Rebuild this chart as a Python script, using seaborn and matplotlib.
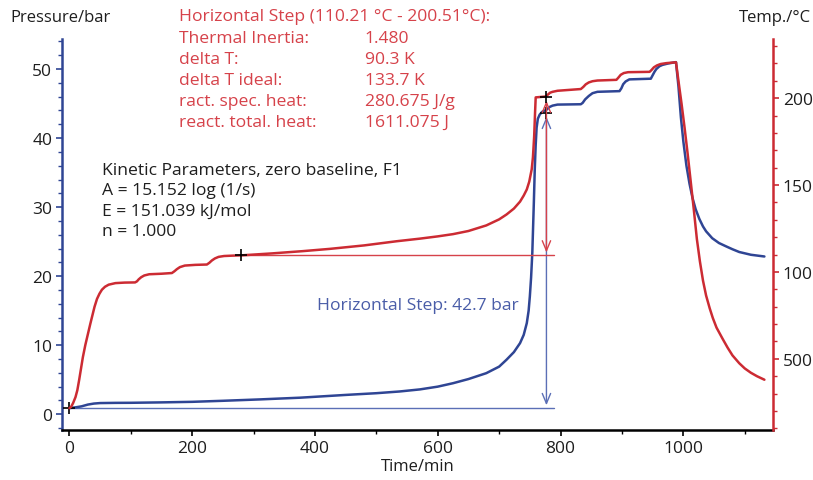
import matplotlib
matplotlib.use("Agg")
import matplotlib.pyplot as plt
import seaborn as sns
from matplotlib.ticker import FixedLocator, MultipleLocator, FixedFormatter

# ---------------- data ----------------
time_p = [0, 10, 20, 30, 40, 50, 75, 100, 150, 200, 250, 310, 376, 450, 500, 538, 571, 600,
          625, 650, 679, 700, 712, 724, 734, 740, 745, 748, 750, 752, 754, 756.5, 758, 759.5,
          761, 763, 766, 770, 777, 782, 787, 795, 833, 836, 840, 846, 852, 860, 896, 899, 902,
          906, 912, 947, 950, 953, 956, 961, 966, 975, 988, 992, 996, 1000, 1005, 1010, 1015,
          1020, 1026, 1032, 1037, 1047, 1058, 1070, 1080, 1091, 1110, 1132]
pressure = [0.9, 1.0, 1.15, 1.4, 1.55, 1.62, 1.65, 1.66, 1.72, 1.8, 1.95, 2.15, 2.4, 2.8, 3.05,
            3.3, 3.6, 4.0, 4.5, 5.1, 5.95, 6.9, 7.9, 9.0, 10.3, 11.5, 13.2, 15.0, 17.1, 19.8,
            23.4, 30.7, 35.5, 39.0, 41.5, 42.8, 43.4, 43.8, 44.1, 44.5, 44.7, 44.85, 44.9, 45.1,
            45.6, 46.1, 46.5, 46.7, 46.8, 47.2, 47.8, 48.2, 48.5, 48.6, 49.1, 49.6, 50.0, 50.4,
            50.6, 50.8, 51.0, 47.5, 43.0, 39.5, 36.0, 33.4, 31.3, 29.7, 28.3, 27.2, 26.5, 25.5,
            24.8, 24.3, 23.9, 23.5, 23.1, 22.85]

time_t = [0, 3, 6, 10, 13, 16, 19, 22, 26, 30, 34, 37, 41, 45, 49, 53, 58, 64, 75, 90, 107,
          110, 113, 117, 122, 130, 150, 167, 171, 175, 180, 188, 205, 224, 228, 232, 237, 243,
          252, 265, 281, 330, 380, 424, 480, 533, 571, 600, 625, 650, 679, 700, 712, 724, 734,
          740, 745, 749, 753, 755, 757, 758.5, 759.5, 776, 779, 783, 787, 795, 810, 833, 837,
          841, 846, 852, 860, 891, 894, 898, 903, 910, 945, 948, 952, 957, 963, 972, 988, 992,
          997, 1002, 1007, 1012, 1017, 1022, 1027, 1032, 1037, 1043, 1048, 1054, 1064, 1072,
          1080, 1091, 1100, 1110, 1120, 1132]
temperature = [21.6, 22.5, 24.5, 28.0, 32.0, 38.0, 44.5, 51.0, 58.0, 64.0, 70.0, 74.3, 80.0,
               84.5, 87.5, 89.8, 91.5, 92.7, 93.6, 93.9, 94.0, 94.6, 95.8, 97.0, 98.0, 98.7,
               99.0, 99.4, 100.4, 101.6, 102.8, 103.7, 104.1, 104.3, 105.3, 106.6, 107.8, 108.7,
               109.2, 109.4, 109.6, 110.7, 112.0, 113.3, 115.3, 117.7, 119.2, 120.5, 121.8, 123.6,
               126.8, 130.3, 133.1, 136.5, 140.5, 144.0, 147.5, 152.0, 159.1, 166.0, 178.0, 192.0,
               200.5, 201.0, 202.0, 203.2, 203.7, 204.3, 204.7, 205.3, 206.5, 208.0, 209.1, 209.8,
               210.2, 210.6, 211.8, 213.5, 214.5, 215.0, 215.2, 216.2, 217.8, 218.9, 219.7, 220.2,
               220.7, 210.0, 197.0, 183.0, 168.0, 152.0, 136.0, 119.0, 106.0, 95.0, 86.5, 79.0,
               73.5, 68.0, 61.5, 56.5, 52.0, 47.5, 44.5, 42.0, 40.0, 38.0]

baseline_p = 0.9
step_p_top = 43.7
step_t_low = 109.6
step_t_high = 201.0
step_time = 777
red_line_start = 280
lines_end = 790

x_ticks = [0, 200, 400, 600, 800, 1000]
left_ticks = [0, 10, 20, 30, 40, 50]
right_ticks = [50, 100, 150, 200]
right_tick_labels = ["500", "100", "150", "200"]

info_labels = ["Thermal Inertia:", "delta T:", "delta T ideal:", "ract. spec. heat:", "react. total. heat:"]
info_values = ["1.480", "90.3 K", "133.7 K", "280.675 J/g", "1611.075 J"]
kinetic_lines = ["Kinetic Parameters, zero baseline, F1", "A = 15.152 log (1/s)",
                 "E = 151.039 kJ/mol", "n = 1.000"]

# ---------------- style ----------------
sns.set_theme(style="white")
plt.rcParams["font.family"] = ["Open Sans", "DejaVu Sans"]

RED = "#cc2b33"
RED_TXT = "#d6424a"
BLUE = "#2f4594"
BLUE_TXT = "#4a5da8"
BLUE_LIGHT = "#5b6fb6"
TXT = "#1e1e1e"

W, H = 813, 481
fig = plt.figure(figsize=(W / 100, H / 100), dpi=100)
ax = fig.add_axes([62 / W, 1 - 431 / H, (773 - 62) / W, (431 - 40) / H])
ax2 = ax.twinx()

sns.lineplot(x=time_p, y=pressure, ax=ax, color=BLUE, lw=1.8, sort=False)
sns.lineplot(x=time_t, y=temperature, ax=ax2, color=RED, lw=1.8, sort=False)

# step construction lines
ax.plot([0, lines_end], [baseline_p, baseline_p], color=BLUE_LIGHT, lw=1.0, zorder=1)
ax2.plot([red_line_start, lines_end], [step_t_low, step_t_low], color=RED_TXT, lw=1.0, zorder=1)
ax.annotate("", xy=(step_time, baseline_p), xytext=(step_time, step_p_top),
            arrowprops=dict(arrowstyle="<->,head_length=0.6,head_width=0.25",
                            color=BLUE_LIGHT, lw=1.0, shrinkA=3, shrinkB=2))
ax2.annotate("", xy=(step_time, step_t_low), xytext=(step_time, step_t_high),
             arrowprops=dict(arrowstyle="<->,head_length=0.6,head_width=0.25",
                             color=RED_TXT, lw=1.0, shrinkA=3, shrinkB=2))
ax.plot([0, step_time], [baseline_p, step_p_top], ls="none", marker="+", ms=9, mew=1.2, color="black", zorder=5)
ax2.plot([red_line_start, step_time], [step_t_low, step_t_high], ls="none", marker="+", ms=9, mew=1.2,
         color="black", zorder=5)

# axes limits & ticks
ax.set_xlim(-12, 1146)
ax.set_ylim(-2.28, 54.35)
ax2.set_ylim(9.06, 234.1)
ax.xaxis.set_major_locator(FixedLocator(x_ticks))
ax.xaxis.set_minor_locator(MultipleLocator(100))
ax.yaxis.set_major_locator(FixedLocator(left_ticks))
ax.yaxis.set_minor_locator(MultipleLocator(2))
ax2.yaxis.set_major_locator(FixedLocator(right_ticks))
ax2.yaxis.set_major_formatter(FixedFormatter(right_tick_labels))
ax2.yaxis.set_minor_locator(MultipleLocator(10))

for a in (ax, ax2):
    for s in a.spines.values():
        s.set_visible(False)
ax.spines["left"].set_visible(True)
ax.spines["left"].set_color(BLUE)
ax.spines["left"].set_linewidth(1.8)
ax.spines["bottom"].set_visible(True)
ax.spines["bottom"].set_color("black")
ax.spines["bottom"].set_linewidth(1.8)
ax2.spines["right"].set_visible(True)
ax2.spines["right"].set_color(RED)
ax2.spines["right"].set_linewidth(1.8)

ax.tick_params(axis="x", which="major", direction="out", length=4, width=1.2, color="black",
               labelsize=12.5, labelcolor=TXT, pad=3, bottom=True)
ax.tick_params(axis="x", which="minor", direction="out", length=3, width=1.0, color="black", bottom=True)
ax.tick_params(axis="y", which="major", direction="out", length=4, width=1.2, color=BLUE,
               labelsize=12.5, labelcolor=TXT, pad=3, left=True)
ax.tick_params(axis="y", which="minor", direction="out", length=3, width=1.0, color=BLUE, left=True)
ax2.tick_params(axis="y", which="major", direction="out", length=4, width=1.2, color=RED,
                labelsize=12.5, labelcolor=TXT, pad=3, right=True)
ax2.tick_params(axis="y", which="minor", direction="out", length=3, width=1.0, color=RED, right=True)
ax.set_xlabel("")
ax.set_ylabel("")
ax2.set_ylabel("")
ax.grid(False)
ax2.grid(False)


def fx(x):
    return x / W


def fy(y):
    return 1 - y / H


fig.text(fx(10), fy(17.5), "Pressure/bar", fontsize=12, color=TXT, va="center", ha="left")
fig.text(fx(811), fy(17.5), "Temp./°C", fontsize=12, color=TXT, va="center", ha="right")
fig.text(fx(418), fy(467), "Time/min", fontsize=12, color=TXT, va="center", ha="center")

fig.text(fx(179), fy(17.3), "Horizontal Step (110.21 °C - 200.51°C):", fontsize=12.6, color=RED_TXT,
         va="center", ha="left")
for i, (lab, val) in enumerate(zip(info_labels, info_values)):
    yy = 39.3 + i * 20.85
    fig.text(fx(179), fy(yy), lab, fontsize=12.6, color=RED_TXT, va="center", ha="left")
    fig.text(fx(364.5), fy(yy), val, fontsize=12.6, color=RED_TXT, va="center", ha="left")

for i, line in enumerate(kinetic_lines):
    fig.text(fx(101.5), fy(170.7 + i * 20.6), line, fontsize=12.6, color=TXT, va="center", ha="left")

fig.text(fx(316.5), fy(306), "Horizontal Step: 42.7 bar", fontsize=12.6, color=BLUE_TXT,
         va="center", ha="left")

fig.savefig("out.png", dpi=100)
